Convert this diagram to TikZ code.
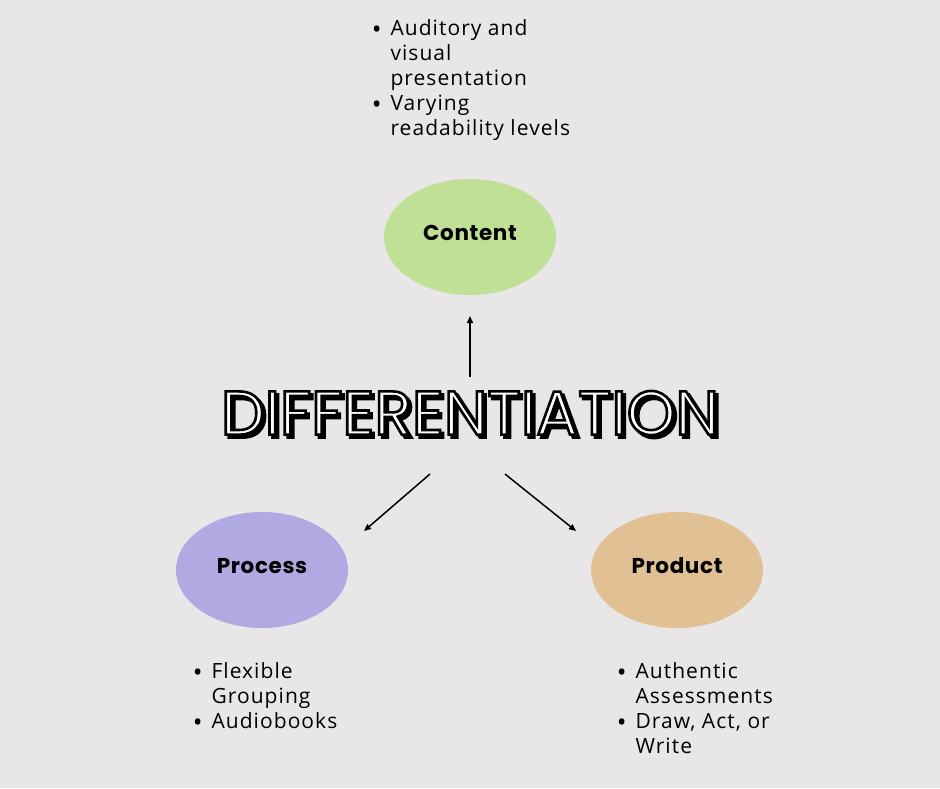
\documentclass[tikz,border=0pt]{standalone}
\usepackage{fontspec}
\setmainfont{Open Sans}[LetterSpace=5]
\newfontfamily\labelfont{Poppins}[LetterSpace=3]
\newfontfamily\titlefont{Poppins}
\usetikzlibrary{arrows.meta, shapes.geometric}
\definecolor{bgcol}{HTML}{E8E6E6}
\definecolor{contentcol}{HTML}{BFE095}
\definecolor{processcol}{HTML}{B0A9E2}
\definecolor{productcol}{HTML}{E1C193}
\newcommand{\strokedtext}[2]{\textcolor{#1}{\special{pdf:literal direct 0 G 2 Tr 2.6 w}#2\special{pdf:literal direct 0 Tr 1 w}}}
\newcommand{\bigdot}{\raisebox{-3.5pt}{\fontsize{26}{0}\selectfont\textbullet}}
\newcommand{\bulletlist}[1]{\begin{tabular}{@{}l@{\hspace{9pt}}l@{}}#1\end{tabular}}

\begin{document}
\begin{tikzpicture}[x=1pt, y=-1pt, >={Triangle[length=7pt, width=6pt]}, line width=1.5pt,
  blob/.style={ellipse, minimum width=172pt, minimum height=116pt, inner sep=0pt},
  blobtext/.style={font=\labelfont\bfseries\fontsize{21.5}{21.5}\selectfont, text height=15pt, text depth=8pt},
  listtext/.style={anchor=north west, inner sep=0pt, font=\fontsize{21}{25}\selectfont}]
  % fondo
  \fill[bgcol] (0,0) rectangle (940,788);
  \useasboundingbox (0,0) rectangle (940,788);
  % titulo con sombra
  \node (titleshadow) at (473,416) {\fontsize{62}{62}\titlefont\strokedtext{black}{DIFFERENTIATION}};
  \node (title) at (470,413) {\fontsize{62}{62}\titlefont\strokedtext{white}{DIFFERENTIATION}};
  % elipses
  \node[blob, fill=contentcol, blobtext] (content) at (470,237) {Content};
  \node[blob, fill=processcol, blobtext] (process) at (262,570) {Process};
  \node[blob, fill=productcol, blobtext] (product) at (677,570) {Product};
  % flechas
  \coordinate (upstart) at (470,377);
  \coordinate (upend) at (470,316);
  \coordinate (leftstart) at (430,474);
  \coordinate (leftend) at (364,531);
  \coordinate (rightstart) at (505,474);
  \coordinate (rightend) at (576,531);
  \draw[->] (upstart) -- (upend);
  \draw[->] (leftstart) -- (leftend);
  \draw[->] (rightstart) -- (rightend);
  % listas
  \node[listtext] (contentlist) at (371,17) {\bulletlist{\bigdot & Auditory and\\ & visual\\ & presentation\\ \bigdot & Varying\\ & readability levels}};
  \node[listtext] (processlist) at (192,660) {\bulletlist{\bigdot & Flexible\\ & Grouping\\ \bigdot & Audiobooks}};
  \node[listtext] (productlist) at (616,660) {\bulletlist{\bigdot & Authentic\\ & Assessments\\ \bigdot & Draw, Act, or\\ & Write}};
\end{tikzpicture}
\end{document}
